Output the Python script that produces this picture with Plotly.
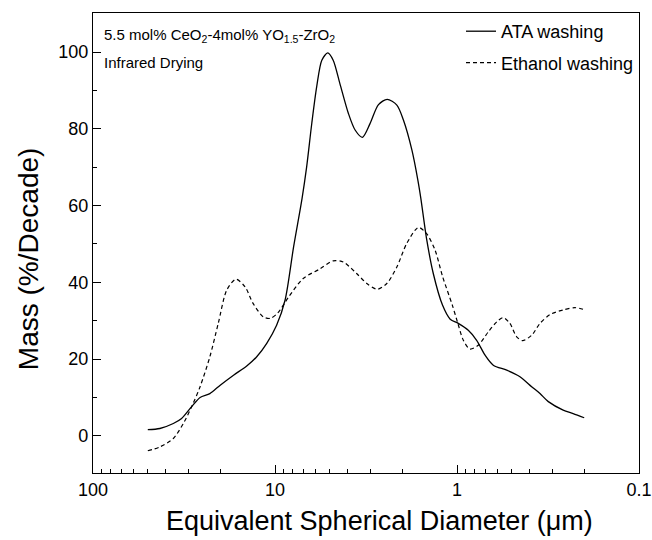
import plotly.graph_objects as go

# Equivalent spherical diameter (um) and mass (%/decade)
ata_d = [50.0, 42.9, 36.2, 32.6, 28.7, 25.8, 22.8, 20.0, 16.9, 14.3, 12.6, 11.1, 9.8, 8.8, 7.9,
         7.1, 6.70, 6.28, 5.90, 5.53, 5.13, 4.79, 4.40, 3.95, 3.63, 3.31, 3.01, 2.70, 2.42, 2.14, 1.97,
         1.77, 1.64, 1.58, 1.47, 1.35, 1.20, 1.09, 0.984, 0.867, 0.780, 0.701, 0.632, 0.533, 0.451,
         0.389, 0.350, 0.315, 0.261, 0.230, 0.200]
ata_v = [1.6, 1.9, 3.2, 4.5, 7.6, 10.0, 11.0, 13.2, 15.8, 18.2, 20.6, 24.1, 28.8, 35.4, 49.3,
         61.9, 70.1, 81.4, 91.0, 97.9, 99.8, 97.9, 91.8, 84.0, 79.7, 77.8, 81.3, 86.3, 87.7, 86.2, 82.3,
         74.5, 66.6, 61.9, 51.4, 42.3, 34.0, 30.4, 29.3, 27.5, 24.9, 21.0, 18.4, 17.1, 15.4,
         12.8, 11.0, 8.9, 6.7, 5.8, 4.7]

eth_d = [50.0, 42.9, 36.2, 31.9, 28.7, 25.8, 22.8, 20.5, 18.4, 16.4, 14.6, 13.2, 11.6, 10.6, 9.66,
         8.41, 7.0, 5.66, 4.79, 4.22, 3.56, 3.13, 2.74, 2.43, 2.14, 1.89, 1.63, 1.47, 1.32, 1.20,
         1.06, 0.989, 0.923, 0.849, 0.764, 0.673, 0.605, 0.557, 0.512, 0.470, 0.436, 0.389, 0.350,
         0.308, 0.261, 0.225, 0.200]
eth_v = [-3.9, -2.9, -0.7, 3.2, 7.6, 12.8, 20.6, 29.3, 38.0, 40.8, 38.8, 34.5, 31.0, 30.6, 32.0,
         36.2, 41.0, 43.5, 45.6, 45.3, 42.3, 39.7, 38.2, 39.7, 44.0, 50.1, 54.3, 52.7, 48.4, 41.5,
         34.0, 29.3, 24.9, 22.6, 23.6, 27.1, 29.7, 30.8, 29.3, 25.8, 24.8, 26.2, 29.3,
         31.6, 32.8, 33.4, 32.9]

x_major = [100, 10, 1, 0.1]
x_major_text = ["100", "10", "1", "0.1"]
x_minor = [m * 10 ** e for e in (-1, 0, 1) for m in range(2, 10)]

font_family = "Liberation Sans, Arial, sans-serif"

fig = go.Figure()
fig.add_trace(go.Scatter(x=ata_d, y=ata_v, mode="lines", name="ATA washing", legendgroup="a",
                         line=dict(color="black", width=1.3, shape="spline", smoothing=0.8)))
fig.add_trace(go.Scatter(x=eth_d, y=eth_v, mode="lines", name="Ethanol washing", legendgroup="b",
                         line=dict(color="black", width=1.2, dash="4px,3px", shape="spline", smoothing=0.8)))

fig.update_layout(
    width=652, height=540,
    margin=dict(l=93, r=13, t=13, b=67),
    paper_bgcolor="white", plot_bgcolor="white",
    font=dict(family=font_family, color="black"),
    showlegend=True,
    legend=dict(x=0.674, y=1.0, xanchor="left", yanchor="top",
                bgcolor="rgba(0,0,0,0)", font=dict(size=18, family=font_family),
                itemwidth=30, tracegroupgap=5),
    xaxis=dict(type="log", range=[2, -1], showgrid=False, zeroline=False, automargin=False,
               showline=True, linecolor="black", linewidth=1.2, mirror=True,
               ticks="inside", ticklen=8, tickcolor="black", tickwidth=1.2,
               tickvals=x_major, ticktext=x_major_text,
               tickfont=dict(size=18, family=font_family),
               minor=dict(ticks="inside", ticklen=4, tickcolor="black", tickwidth=1, tickvals=x_minor)),
    yaxis=dict(range=[-9.7, 110.2], showgrid=False, zeroline=False, automargin=False,
               showline=True, linecolor="black", linewidth=1.2, mirror=True,
               ticks="inside", ticklen=8, tickcolor="black", tickwidth=1.2,
               tick0=0, dtick=20, tickfont=dict(size=18, family=font_family),
               minor=dict(ticks="inside", ticklen=4, tickcolor="black", tickwidth=1, dtick=10)),
    annotations=[
        dict(text="5.5 mol% CeO<sub>2</sub>-4mol% YO<sub>1.5</sub>-ZrO<sub>2</sub>",
             xref="paper", yref="paper", x=0.017, y=0.952, xanchor="left", yanchor="middle",
             showarrow=False, font=dict(size=15, family=font_family)),
        dict(text="Infrared Drying", xref="paper", yref="paper", x=0.017, y=0.893,
             xanchor="left", yanchor="middle", showarrow=False, font=dict(size=15, family=font_family)),
        dict(text="Equivalent Spherical Diameter (\u03bcm)", xref="paper", yref="paper",
             x=0.524, y=-0.104, xanchor="center", yanchor="middle", showarrow=False,
             font=dict(size=27, family=font_family)),
        dict(text="Mass (%/Decade)", xref="paper", yref="paper", textangle=-90,
             x=-0.119, y=0.465, xanchor="center", yanchor="middle", showarrow=False,
             font=dict(size=28, family=font_family)),
    ],
)

fig.write_html("out.html")
